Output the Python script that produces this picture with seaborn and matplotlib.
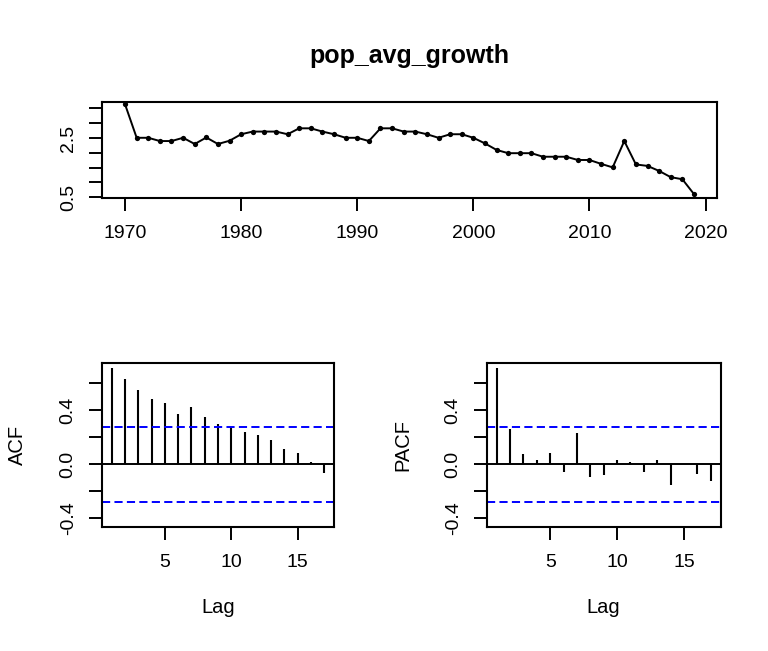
import numpy as np
import pandas as pd
import matplotlib
matplotlib.use("Agg")
import matplotlib.pyplot as plt
import seaborn as sns

# series
years = np.arange(1970, 2020)
growth = [3.64, 2.51, 2.51, 2.40, 2.40, 2.51, 2.30, 2.52, 2.30, 2.41,
          2.63, 2.72, 2.72, 2.72, 2.63, 2.83, 2.83, 2.72, 2.63, 2.51,
          2.51, 2.40, 2.83, 2.83, 2.72, 2.72, 2.63, 2.51, 2.63, 2.63,
          2.51, 2.32, 2.10, 1.99, 1.99, 1.99, 1.87, 1.87, 1.87, 1.76,
          1.76, 1.63, 1.51, 2.40, 1.61, 1.56, 1.39, 1.18, 1.11, 0.61]

lags = np.arange(1, 18)
acf_vals = [0.711, 0.630, 0.548, 0.481, 0.454, 0.373, 0.427, 0.348, 0.299,
            0.279, 0.237, 0.215, 0.180, 0.111, 0.081, 0.015, -0.062]
pacf_vals = [0.711, 0.259, 0.074, 0.032, 0.081, -0.059, 0.235, -0.096, -0.079,
             0.032, 0.015, -0.054, 0.032, -0.153, 0.003, -0.072, -0.121]
conf = 0.278

ts_yticks = [0.5, 1.0, 1.5, 2.0, 2.5, 3.0, 3.5]
ts_ylabels = ["0.5", "", "", "", "2.5", "", ""]
ts_xticks = [1970, 1980, 1990, 2000, 2010, 2020]
cf_yticks = [-0.4, -0.2, 0.0, 0.2, 0.4, 0.6]
cf_ylabels = ["-0.4", "", "0.0", "", "0.4", ""]
cf_xticks = [5, 10, 15]

sns.set_style("ticks")
plt.rcParams["font.family"] = ["Liberation Sans", "DejaVu Sans"]
plt.rcParams["text.color"] = "black"
plt.rcParams["axes.labelcolor"] = "black"

fig = plt.figure(figsize=(7.68, 6.51), dpi=100)
ax_ts = fig.add_axes([0.1332, 0.6954, 0.800, 0.1475])
ax_acf = fig.add_axes([0.1324, 0.1909, 0.3029, 0.2519])
ax_pacf = fig.add_axes([0.6337, 0.1909, 0.3047, 0.2519])


def style_axis(ax):
    for sp in ax.spines.values():
        sp.set_visible(True)
        sp.set_color("black")
        sp.set_linewidth(1.5)
    ax.tick_params(direction="out", length=9.5, width=1.4, color="black",
                   labelsize=14, labelcolor="black")
    ax.tick_params(axis="x", pad=10)
    ax.tick_params(axis="y", pad=8.5)
    ax.grid(False)


# time series panel
df = pd.DataFrame({"year": years, "growth": growth})
sns.lineplot(data=df, x="year", y="growth", ax=ax_ts, color="black",
             linewidth=1.4, marker="o", markersize=3.8, markeredgewidth=0)
ax_ts.set_xlim(1968.04, 2020.96)
ax_ts.set_ylim(0.466, 3.71)
ax_ts.set_xticks(ts_xticks)
ax_ts.set_yticks(ts_yticks)
ax_ts.set_yticklabels(ts_ylabels, rotation=90, va="center")
ax_ts.set_xlabel("")
ax_ts.set_ylabel("")
ax_ts.set_title("pop_avg_growth", fontsize=18, fontweight="bold", pad=28,
                color="black")
style_axis(ax_ts)

# ACF / PACF panels
for ax, vals, name, ylab_x in [(ax_acf, acf_vals, "ACF", -0.364),
                               (ax_pacf, pacf_vals, "PACF", -0.358)]:
    ax.vlines(lags, 0, vals, color="black", linewidth=1.5)
    ax.axhline(0, color="black", linewidth=1.4)
    for c in (conf, -conf):
        ax.axhline(c, color="blue", linewidth=1.4, linestyle=(0, (4.2, 2.2)))
    ax.set_xlim(0.25, 17.75)
    ax.set_ylim(-0.462, 0.753)
    ax.set_xticks(cf_xticks)
    ax.set_yticks(cf_yticks)
    ax.set_yticklabels(cf_ylabels, rotation=90, va="center")
    ax.set_xlabel("Lag", fontsize=14.5)
    ax.set_ylabel(name, fontsize=14.5)
    ax.xaxis.set_label_coords(0.5, -0.49)
    ax.xaxis.label.set_va("center")
    ax.yaxis.set_label_coords(ylab_x, 0.5)
    ax.yaxis.label.set_va("center")
    style_axis(ax)

fig.savefig("out.png", dpi=100)
